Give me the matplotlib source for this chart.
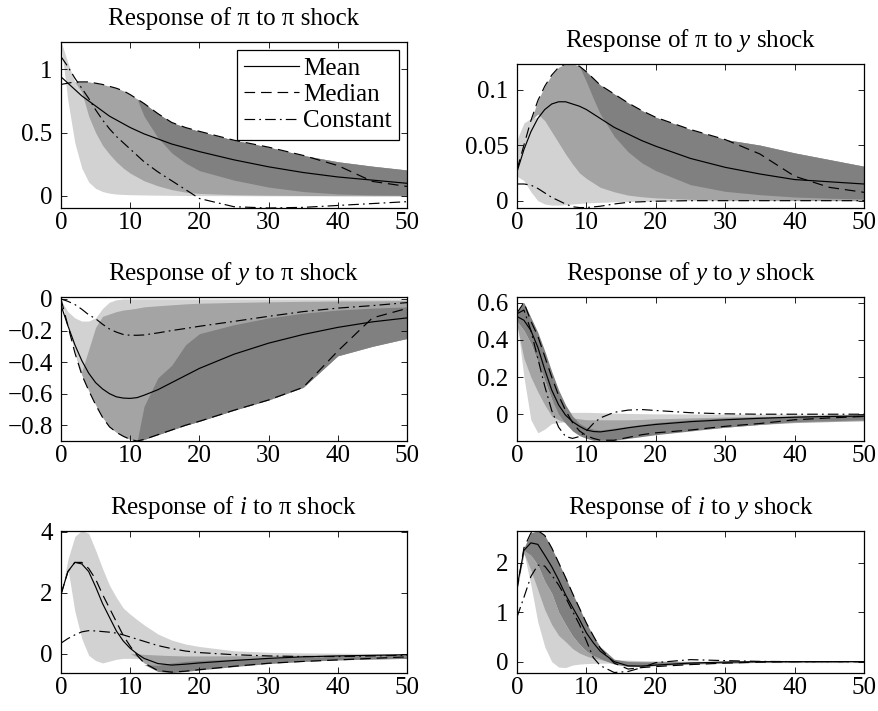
import numpy as np
import matplotlib
matplotlib.use("Agg")
import matplotlib.pyplot as plt

plt.rcParams['font.family'] = ['Liberation Serif', 'DejaVu Serif']
plt.rcParams['mathtext.fontset'] = 'custom'
plt.rcParams['mathtext.rm'] = 'Liberation Serif'
plt.rcParams['mathtext.it'] = 'Liberation Serif:italic'

# horizon grid (quarters)
T = [0, 1, 2, 3, 4, 5, 6, 7, 8, 9, 10, 11, 12, 14, 16, 18, 20, 25, 30, 35, 40, 45, 50]

# ---- response of pi to pi shock
pp_mean = [.94, .89, .84, .79, .75, .71, .67, .63, .60, .57, .54, .515, .49, .45, .41, .38, .35, .285, .23, .185, .15, .125, .10]
pp_median = [.88, .89, .90, .90, .90, .89, .88, .865, .85, .83, .80, .765, .73, .65, .58, .54, .51, .44, .385, .32, .24, .115, .075]
pp_const = [1.1, 1.02, .93, .85, .77, .68, .60, .53, .47, .42, .37, .32, .27, .19, .12, .05, -.02, -.085, -.095, -.09, -.075, -.06, -.045]
pp_lo1 = [1.2, .75, .42, .22, .11, .06, .035, .022, .015, .012, .01, .009, .008, .006, .005, .004, .003, .002, .001, .001, 0, 0, 0]
pp_hi1 = [1.22, 1.05, .90, .90, .90, .89, .88, .865, .85, .83, .80, .765, .73, .65, .58, .54, .51, .44, .385, .32, .27, .235, .205]
pp_lo2 = [.88, .89, .90, .82, .63, .50, .40, .33, .27, .22, .18, .15, .12, .08, .05, .03, .02, .01, .006, .004, .003, .002, .002]
pp_hi2 = [.88, .89, .90, .90, .90, .89, .88, .865, .85, .83, .80, .765, .73, .65, .58, .54, .51, .44, .385, .32, .27, .235, .205]
pp_lo3 = [.88, .89, .90, .90, .90, .89, .88, .865, .85, .83, .80, .765, .63, .46, .34, .26, .20, .125, .07, .035, .016, .008, .005]
pp_hi3 = [.88, .89, .90, .90, .90, .89, .88, .865, .85, .83, .80, .765, .73, .65, .58, .54, .51, .44, .385, .32, .27, .235, .205]

# ---- response of pi to y shock
py_mean = [.026, .046, .062, .074, .082, .087, .089, .089, .087, .085, .082, .078, .074, .066, .060, .054, .049, .038, .030, .024, .019, .017, .015]
py_median = [.028, .05, .072, .09, .103, .113, .12, .123, .123, .121, .116, .11, .104, .096, .088, .081, .075, .064, .055, .042, .022, .012, .0075]
py_const = [.015, .015, .014, .011, .007, .003, 0, -.003, -.0055, -.0062, -.0062, -.0056, -.005, -.003, -.0015, -.001, -.0005, 0, 0, 0, 0, 0, 0]
py_lo1 = [.022, .018, .008, 0, -.003, -.004, -.004, -.0035, -.003, -.0025, -.002, -.0018, -.0015, -.001, -.0008, -.0005, -.0003, 0, 0, 0, 0, 0, 0]
py_hi1 = [.055, .07, .074, .075, .103, .113, .12, .123, .123, .121, .116, .11, .104, .096, .088, .081, .075, .064, .055, .05, .043, .037, .031]
py_lo2 = [.028, .05, .072, .078, .072, .062, .052, .042, .033, .025, .02, .016, .012, .008, .005, .0035, .0025, .0012, .0006, .0003, .0002, .0001, 0]
py_hi2 = [.028, .05, .072, .09, .103, .113, .12, .123, .123, .121, .116, .11, .104, .096, .088, .081, .075, .064, .055, .05, .043, .037, .031]
py_lo3 = [.028, .05, .072, .09, .103, .113, .12, .123, .123, .121, .107, .092, .078, .058, .044, .034, .027, .0144, .0084, .0054, .0033, .0022, .0015]
py_hi3 = [.028, .05, .072, .09, .103, .113, .12, .123, .123, .121, .116, .11, .104, .096, .088, .081, .075, .064, .055, .05, .043, .037, .031]

# ---- response of y to pi shock
yp_mean = [-.04, -.17, -.29, -.39, -.47, -.53, -.57, -.60, -.62, -.628, -.63, -.625, -.61, -.575, -.53, -.485, -.44, -.35, -.28, -.225, -.18, -.145, -.12]
yp_median = [0, -.17, -.34, -.48, -.58, -.67, -.75, -.81, -.845, -.87, -.89, -.9, -.89, -.86, -.83, -.80, -.775, -.705, -.64, -.56, -.33, -.12, -.06]
yp_const = [0, -.015, -.035, -.065, -.10, -.125, -.16, -.19, -.21, -.225, -.23, -.23, -.228, -.215, -.20, -.187, -.173, -.142, -.11, -.08, -.058, -.042, -.023]
yp_lo1 = [0, -.17, -.34, -.48, -.58, -.67, -.75, -.81, -.845, -.87, -.89, -.9, -.89, -.86, -.83, -.80, -.775, -.705, -.64, -.56, -.36, -.30, -.25]
yp_hi1 = [-.01, -.08, -.12, -.14, -.14, -.12, -.06, -.02, -.005, 0, 0, 0, 0, 0, 0, 0, 0, 0, 0, 0, 0, 0, 0]
yp_lo2 = [0, -.17, -.34, -.48, -.58, -.67, -.75, -.81, -.845, -.87, -.89, -.9, -.89, -.86, -.83, -.80, -.775, -.705, -.64, -.56, -.36, -.30, -.25]
yp_hi2 = [0, -.17, -.34, -.46, -.32, -.18, -.11, -.095, -.08, -.07, -.065, -.058, -.05, -.043, -.037, -.031, -.027, -.022, -.018, -.015, -.013, -.012, -.01]
yp_lo3 = [0, -.17, -.34, -.48, -.58, -.67, -.75, -.81, -.845, -.87, -.89, -.9, -.89, -.86, -.83, -.80, -.775, -.705, -.64, -.56, -.36, -.30, -.25]
yp_hi3 = [0, -.17, -.34, -.48, -.58, -.67, -.75, -.81, -.845, -.87, -.89, -.9, -.68, -.50, -.42, -.29, -.22, -.163, -.12, -.09, -.07, -.058, -.05]

# ---- response of y to y shock
yy_mean = [.525, .505, .45, .36, .24, .13, .05, -.005, -.04, -.065, -.085, -.093, -.095, -.085, -.073, -.063, -.055, -.04, -.03, -.022, -.016, -.012, -.01]
yy_median = [.545, .60, .50, .42, .31, .20, .10, .02, -.045, -.09, -.115, -.13, -.14, -.14, -.125, -.11, -.10, -.085, -.065, -.05, -.03, -.02, -.012]
yy_const = [.54, .56, .45, .30, .15, .02, -.07, -.12, -.13, -.12, -.09, -.05, -.02, .01, .022, .025, .02, .008, .002, 0, 0, 0, 0]
yy_lo1 = [.50, .20, -.03, -.10, -.08, -.05, -.045, -.04, -.035, -.035, -.035, -.035, -.035, -.035, -.035, -.035, -.035, -.035, -.035, -.035, -.035, -.035, -.035]
yy_hi1 = [.52, .32, .21, .13, .06, .015, .012, .01, .01, .01, .01, .009, .008, .006, .004, .003, .002, .001, 0, 0, 0, 0, 0]
yy_lo2 = [.48, .30, .20, .12, .05, -.01, -.03, -.045, -.06, -.075, -.09, -.10, -.11, -.12, -.12, -.11, -.10, -.085, -.07, -.055, -.045, -.04, -.035]
yy_hi2 = [.50, .45, .38, .28, .18, .08, .02, -.01, -.02, -.025, -.03, -.03, -.03, -.03, -.03, -.028, -.025, -.02, -.015, -.012, -.01, -.008, -.006]
yy_lo3 = [.50, .45, .38, .28, .18, .08, 0, -.05, -.09, -.115, -.13, -.14, -.14, -.14, -.13, -.12, -.11, -.09, -.07, -.055, -.04, -.035, -.03]
yy_hi3 = [.55, .60, .52, .44, .34, .23, .13, .05, -.01, -.05, -.07, -.08, -.085, -.075, -.065, -.055, -.045, -.03, -.02, -.015, -.01, -.005, -.003]

# ---- response of i to pi shock
ip_mean = [1.95, 2.7, 3.0, 2.95, 2.7, 2.2, 1.65, 1.2, .75, .42, .18, 0, -.15, -.32, -.37, -.34, -.30, -.22, -.15, -.10, -.07, -.05, -.03]
ip_median = [1.95, 2.7, 3.0, 3.0, 2.8, 2.45, 1.95, 1.5, 1.05, .6, .25, -.05, -.3, -.55, -.6, -.57, -.52, -.41, -.31, -.25, -.2, -.15, -.1]
ip_const = [.35, .5, .62, .72, .76, .75, .73, .71, .68, .62, .55, .48, .41, .27, .17, .09, .04, -.03, -.07, -.09, -.09, -.07, -.05]
ip_lo1 = [1.95, 2.8, 1.4, .5, -.05, -.22, -.3, -.24, -.18, -.15, -.15, -.16, -.17, -.2, -.22, -.22, -.22, -.2, -.18, -.17, -.16, -.15, -.14]
ip_hi1 = [1.95, 3.1, 3.85, 4.05, 3.95, 3.4, 2.8, 2.25, 1.85, 1.5, 1.3, 1.12, .95, .65, .45, .32, .24, .1, .05, .03, .02, .01, .01]
ip_lo2 = [0, 0, 0, 0, 0, 0, 0, 0, 0, 0, 0, -.1, -.3, -.5, -.55, -.52, -.48, -.4, -.3, -.24, -.2, -.17, -.15]
ip_hi2 = [0, 0, 0, 0, 0, 0, 0, 0, 0, 0, 0, 0, -.02, -.04, -.06, -.07, -.07, -.065, -.055, -.045, -.035, -.03, -.025]
ip_lo3 = [-.35, -.35, -.35, -.35, -.35, -.35, -.35, -.35, -.35, -.35, -.35, -.35, -.35, -.58, -.62, -.58, -.53, -.42, -.32, -.25, -.2, -.17, -.15]
ip_hi3 = [-.35, -.35, -.35, -.35, -.35, -.35, -.35, -.35, -.35, -.35, -.35, -.35, -.35, -.38, -.3, -.25, -.22, -.17, -.14, -.12, -.1, -.085, -.07]

# ---- response of i to y shock
iy_mean = [1.5, 2.25, 2.4, 2.37, 2.15, 1.92, 1.65, 1.35, 1.1, .85, .58, .38, .21, 0, -.085, -.09, -.07, -.03, -.008, 0, 0, 0, 0]
iy_median = [1.45, 2.3, 2.6, 2.65, 2.55, 2.3, 2.0, 1.7, 1.38, 1.08, .78, .52, .27, -.03, -.15, -.12, -.1, -.06, -.03, -.01, 0, 0, 0]
iy_const = [.9, 1.3, 1.72, 1.95, 1.93, 1.75, 1.55, 1.3, 1.02, .75, .42, .08, -.08, -.22, -.2, -.12, -.02, .04, .02, .005, 0, 0, 0]
iy_lo1 = [1.45, 2.2, 1.55, .8, .3, 0, -.11, -.12, -.07, -.05, -.04, -.035, -.03, -.03, -.03, -.025, -.025, -.02, -.02, -.02, -.02, -.02, -.02]
iy_hi1 = [1.45, 2.25, 2.2, 1.7, 1.2, .8, .55, .4, .26, .17, .11, .08, .06, .04, .03, .02, .015, .01, .005, 0, 0, 0, 0]
iy_lo2 = [1.45, 2.19, 1.85, 1.45, 1.05, .75, .53, .4, .26, .17, .11, .07, .045, -.03, -.06, -.07, -.06, -.04, -.025, -.015, -.01, -.005, -.003]
iy_hi2 = [1.45, 2.25, 2.15, 1.95, 1.62, 1.38, 1.0, .75, .52, .35, .21, .12, .06, .02, .01, .005, .003, 0, 0, 0, 0, 0, 0]
iy_lo3 = [1.45, 2.25, 2.15, 1.95, 1.62, 1.38, 1.0, .75, .52, .35, .21, .12, .06, -.05, -.1, -.1, -.08, -.05, -.03, -.015, -.01, -.005, 0]
iy_hi3 = [1.45, 2.3, 2.6, 2.65, 2.55, 2.3, 2.0, 1.7, 1.38, 1.08, .78, .52, .3, .05, 0, -.01, -.01, -.005, 0, 0, 0, 0, 0]

panels = [
    ("Response of π to π shock", pp_mean, pp_median, pp_const,
     [(pp_lo1, pp_hi1), (pp_lo2, pp_hi2), (pp_lo3, pp_hi3)], (-0.095, 1.215), [0, 0.5, 1]),
    ("Response of π to $y$ shock", py_mean, py_median, py_const,
     [(py_lo1, py_hi1), (py_lo2, py_hi2), (py_lo3, py_hi3)], (-0.0066, 0.123), [0, 0.05, 0.1]),
    ("Response of $y$ to π shock", yp_mean, yp_median, yp_const,
     [(yp_lo1, yp_hi1), (yp_lo2, yp_hi2), (yp_lo3, yp_hi3)], (-0.9, 0.0125), [-0.8, -0.6, -0.4, -0.2, 0]),
    ("Response of $y$ to $y$ shock", yy_mean, yy_median, yy_const,
     [(yy_lo1, yy_hi1), (yy_lo2, yy_hi2), (yy_lo3, yy_hi3)], (-0.144, 0.63), [0, 0.2, 0.4, 0.6]),
    ("Response of $i$ to π shock", ip_mean, ip_median, ip_const,
     [(ip_lo1, ip_hi1), (ip_lo2, ip_hi2), (ip_lo3, ip_hi3)], (-0.63, 4.03), [0, 2, 4]),
    ("Response of $i$ to $y$ shock", iy_mean, iy_median, iy_const,
     [(iy_lo1, iy_hi1), (iy_lo2, iy_hi2), (iy_lo3, iy_hi3)], (-0.23, 2.64), [0, 1, 2]),
]

# axes boxes in pixels: left, top, right, bottom
W, H = 879, 711
boxes = [(61, 42, 407, 208), (517, 64, 864, 208),
         (61, 297, 407, 441), (517, 297, 864, 441),
         (61, 531, 407, 673), (517, 531, 864, 673)]

shades = ['#d2d2d2', '#a4a4a4', '#808080']
fs = 18

fig = plt.figure(figsize=(W / 100, H / 100), dpi=100)
for (title, mean, median, const, bands, ylim, yt), (l, t, r, b) in zip(panels, boxes):
    ax = fig.add_axes([l / W, 1 - b / H, (r - l) / W, (b - t) / H])
    for (lo, hi), c in zip(bands, shades):
        ax.fill_between(T, lo, hi, color=c, lw=0)
    ax.plot(T, mean, color='k', lw=0.85, label='Mean')
    ax.plot(T, median, color='k', lw=0.85, ls=(0, (9, 5)), label='Median')
    ax.plot(T, const, color='k', lw=0.85, ls=(0, (9, 3.5, 1.5, 3.5)), label='Constant')
    ax.set_xlim(0, 50)
    ax.set_ylim(*ylim)
    ax.set_xticks([0, 10, 20, 30, 40, 50])
    ax.set_yticks(yt)
    ax.set_yticklabels(['{:g}'.format(v).replace('-', '\u2212') for v in yt])
    ax.tick_params(direction='in', top=True, right=True, length=4, width=0.6,
                   labelsize=fs)
    ax.tick_params(axis='x', pad=3)
    ax.tick_params(axis='y', pad=6)
    for s in ax.spines.values():
        s.set_linewidth(0.9)
    ax.set_title(title, fontsize=fs, pad=12)
    if title == panels[0][0]:
        leg = ax.legend(loc='upper right', bbox_to_anchor=(0.977, 0.952),
                        borderaxespad=0, fontsize=fs, fancybox=False,
                        framealpha=1, edgecolor='k', handlelength=2.2,
                        handletextpad=0.15, labelspacing=0.15, borderpad=0.3)
        leg.get_frame().set_linewidth(0.9)

fig.savefig('out.png', dpi=100)
